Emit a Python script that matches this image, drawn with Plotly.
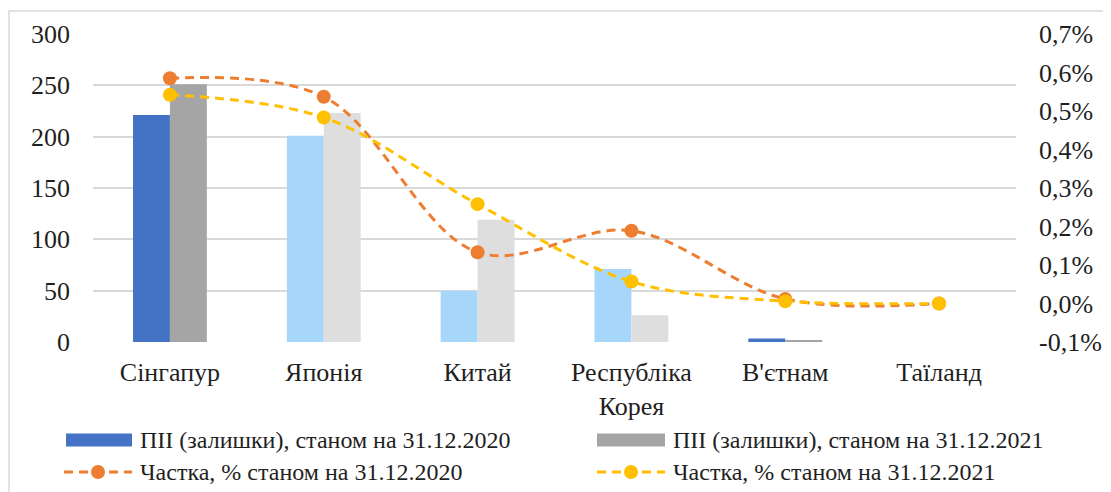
import plotly.graph_objects as go

categories = ["Сінгапур", "Японія", "Китай", "Республіка<br>Корея", "В'єтнам", "Таїланд"]
fdi_2020 = [221, 201, 50, 71, 3.5, 0]
fdi_2021 = [251, 223, 119, 26, 2, 0]
share_2020 = [0.585, 0.537, 0.133, 0.189, 0.012, 0.0]
share_2021 = [0.542, 0.483, 0.258, 0.057, 0.006, 0.0]
y2_tickvals = [-0.1, 0.0, 0.1, 0.2, 0.3, 0.4, 0.5, 0.6, 0.7]
y2_ticktext = ["-0,1%", "0,0%", "0,1%", "0,2%", "0,3%", "0,4%", "0,5%", "0,6%", "0,7%"]

names = ["ПІІ (залишки), станом на 31.12.2020", "ПІІ (залишки), станом на 31.12.2021",
         "Частка, % станом на 31.12.2020", "Частка, % станом на 31.12.2021"]

BLUE, GRAY = "#4472C4", "#A5A5A5"
LBLUE, LGRAY = "#A6D6FA", "#DEDEDE"
ORANGE, YELLOW = "#ED7D31", "#FFC000"
col2020 = [BLUE, LBLUE, LBLUE, LBLUE, BLUE, BLUE]
col2021 = [GRAY, LGRAY, LGRAY, LGRAY, GRAY, GRAY]

OFF = 8  # page body margin
W, H = 1111, 492
PX0, PX1, PY0, PY1 = 93, 1016, 34, 342  # plot area in screen pixels
L, T = PX0 - OFF, PY0 - OFF
R = W - (PX1 - OFF)
B = H - (PY1 - OFF)
PW, PH = PX1 - PX0, PY1 - PY0

def px(x):
    return (x - PX0) / PW

def py(y):
    return (PY1 - y) / PH

FONT = "Liberation Serif, Tinos, Times New Roman, DejaVu Serif, serif"
TXT = "#1f1f1f"
FS_TICK = 26
FS_LEG = 24

fig = go.Figure()
fig.add_trace(go.Bar(x=categories, y=fdi_2020, name=names[0], marker_color=col2020,
                     marker_line_width=0, showlegend=False))
fig.add_trace(go.Bar(x=categories, y=fdi_2021, name=names[1], marker_color=col2021,
                     marker_line_width=0, showlegend=False))
fig.add_trace(go.Scatter(x=categories, y=share_2020, name=names[2], yaxis="y2",
                         mode="lines+markers",
                         line=dict(color=ORANGE, width=3, dash="9px,6px", shape="spline", smoothing=1.0),
                         marker=dict(color=ORANGE, size=14), showlegend=False))
fig.add_trace(go.Scatter(x=categories, y=share_2021, name=names[3], yaxis="y2",
                         mode="lines+markers",
                         line=dict(color=YELLOW, width=3, dash="9px,6px", shape="spline", smoothing=1.0),
                         marker=dict(color=YELLOW, size=14), showlegend=False))

shapes = [
    dict(type="rect", xref="paper", yref="paper", x0=px(9), x1=px(1300), y0=py(800), y1=py(11),
         line=dict(color="#D9D9D9", width=1.5), fillcolor="rgba(0,0,0,0)", layer="below"),
]
annotations = []
legend_items = [
    (66, 132, 440, "bar", BLUE, names[0]),
    (597, 665, 440, "bar", GRAY, names[1]),
    (64, 132, 472, "line", ORANGE, names[2]),
    (597, 665, 472, "line", YELLOW, names[3]),
]
for x0, x1, yc, kind, color, label in legend_items:
    if kind == "bar":
        shapes.append(dict(type="rect", xref="paper", yref="paper", x0=px(x0), x1=px(x1),
                           y0=py(yc + 6.5), y1=py(yc - 6.5), line=dict(width=0), fillcolor=color))
    else:
        shapes.append(dict(type="line", xref="paper", yref="paper", x0=px(x0), x1=px(x1),
                           y0=py(yc), y1=py(yc), line=dict(color=color, width=3, dash="9px,6px")))
        xm = (x0 + x1) / 2
        shapes.append(dict(type="circle", xref="paper", yref="paper", x0=px(xm - 7), x1=px(xm + 7),
                           y0=py(yc + 7), y1=py(yc - 7), line=dict(width=0), fillcolor=color))
    annotations.append(dict(xref="paper", yref="paper", x=px(x1 + 6), y=py(yc), text=label,
                            showarrow=False, xanchor="left", yanchor="middle",
                            font=dict(family=FONT, size=FS_LEG, color=TXT)))

fig.update_layout(
    width=W, height=H,
    margin=dict(l=L, r=R, t=T, b=B),
    paper_bgcolor="white", plot_bgcolor="white",
    barmode="group", bargap=0.52, bargroupgap=0,
    font=dict(family=FONT, size=FS_TICK, color=TXT),
    showlegend=False,
    xaxis=dict(showgrid=False, showline=False, ticks="", ticklabelstandoff=12,
               tickfont=dict(family=FONT, size=FS_TICK, color=TXT)),
    yaxis=dict(range=[0, 300], dtick=50, showgrid=True, gridcolor="#D9D9D9", gridwidth=1.5,
               zeroline=False, showline=False, ticks="", ticklabelstandoff=22,
               tickfont=dict(family=FONT, size=FS_TICK, color=TXT)),
    yaxis2=dict(range=[-0.1, 0.7], overlaying="y", side="right", showgrid=False, zeroline=False,
                tickvals=y2_tickvals, ticktext=y2_ticktext, ticks="", ticklabelstandoff=22,
                tickfont=dict(family=FONT, size=FS_TICK, color=TXT)),
    shapes=shapes,
    annotations=annotations,
)

fig.write_html("out.html")
